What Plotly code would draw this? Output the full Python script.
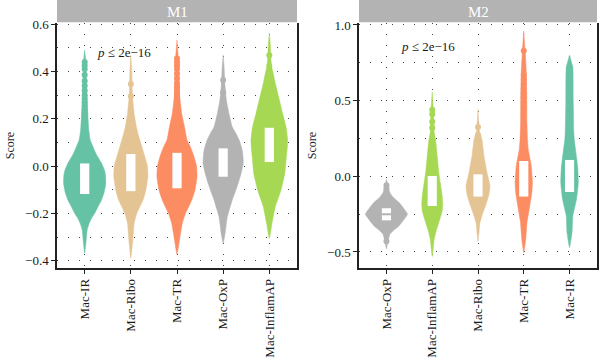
import plotly.graph_objects as go

# ---------------- data ----------------
m1_categories = ["Mac-IR", "Mac-Ribo", "Mac-TR", "Mac-OxP", "Mac-InflamAP"]
m2_categories = ["Mac-OxP", "Mac-InflamAP", "Mac-Ribo", "Mac-TR", "Mac-IR"]

# violin outline: score levels and density half-widths (category units)
m1_dens_y = [
    [-0.369, -0.313, -0.27, -0.242, -0.22, -0.2, -0.17, -0.144, -0.11, -0.073, -0.04, -0.017, 0.01, 0.039, 0.06, 0.082, 0.11, 0.15, 0.195, 0.266, 0.335, 0.40, 0.45, 0.49],
    [-0.39, -0.313, -0.242, -0.2, -0.172, -0.14, -0.101, -0.045, 0.0, 0.025, 0.06, 0.082, 0.11, 0.14, 0.166, 0.222, 0.293, 0.35, 0.406, 0.469],
    [-0.374, -0.313, -0.242, -0.2, -0.172, -0.14, -0.101, -0.045, 0.0, 0.025, 0.055, 0.082, 0.11, 0.166, 0.222, 0.293, 0.35, 0.406, 0.462, 0.533],
    [-0.327, -0.285, -0.25, -0.214, -0.18, -0.144, -0.11, -0.073, -0.03, 0.011, 0.04, 0.068, 0.11, 0.14, 0.166, 0.222, 0.279, 0.34, 0.42, 0.469],
    [-0.306, -0.242, -0.172, -0.101, -0.031, 0.039, 0.08, 0.11, 0.166, 0.222, 0.293, 0.35, 0.392, 0.42, 0.476, 0.519, 0.561],
]
m1_dens_w = [
    [0, .033, .054, .098, .152, .217, .293, .363, .424, .457, .452, .428, .370, .283, .228, .180, .120, .090, .075, .055, .040, .030, .022, 0],
    [0, .043, .072, .130, .196, .272, .326, .370, .359, .326, .272, .239, .196, .152, .120, .072, .037, .026, .020, 0],
    [0, .054, .115, .185, .254, .326, .391, .435, .424, .391, .343, .289, .217, .163, .102, .060, .045, .038, .028, 0],
    [0, .043, .065, .091, .141, .196, .261, .326, .391, .435, .430, .413, .348, .272, .196, .126, .070, .040, .020, 0],
    [0, .059, .130, .254, .337, .370, .391, .398, .363, .289, .202, .130, .087, .050, .030, .020, 0],
]
m2_dens_y = [
    [-0.48, -0.43, -0.383, -0.355, -0.328, -0.29, -0.25, -0.21, -0.172, -0.14, -0.108, -0.07, -0.02],
    [-0.53, -0.416, -0.36, -0.304, -0.229, -0.18, -0.13, -0.04, 0.03, 0.112, 0.245, 0.29, 0.36, 0.42, 0.557],
    [-0.43, -0.306, -0.25, -0.196, -0.12, -0.064, 0.024, 0.08, 0.134, 0.245, 0.30, 0.443],
    [-0.504, -0.416, -0.304, -0.196, -0.11, -0.042, 0.068, 0.178, 0.245, 0.35, 0.51, 0.69, 0.83, 0.96],
    [-0.471, -0.372, -0.262, -0.152, -0.042, 0.05, 0.112, 0.245, 0.29, 0.49, 0.718, 0.80],
]
m2_dens_w = [
    [0, .033, .076, .164, .273, .371, .459, .371, .273, .153, .076, .039, 0],
    [0, .044, .087, .146, .218, .229, .218, .175, .142, .116, .072, .044, .033, .030, 0],
    [0, .044, .098, .164, .240, .262, .197, .164, .131, .087, .033, 0],
    [0, .044, .072, .131, .175, .190, .164, .098, .081, .070, .066, .055, .030, 0],
    [0, .055, .072, .153, .192, .181, .159, .103, .094, .081, .072, 0],
]

# box (white rectangle) quartiles
m1_q1 = [-0.118, -0.106, -0.094, -0.045, 0.017]
m1_q3 = [0.011, 0.051, 0.056, 0.075, 0.162]
m2_q1 = [-0.291, -0.196, -0.134, -0.134, -0.104]
m2_q3 = [-0.211, 0.002, 0.013, 0.101, 0.108]
m2_oxp_median = -0.251

# outliers
m1_outliers = [
    [0.44, 0.425, 0.41, 0.385, 0.36, 0.34, 0.32, 0.30, 0.285, 0.27, 0.255, 0.24, 0.225, 0.215],
    [0.347, 0.295],
    [0.455, 0.44, 0.425, 0.41, 0.39, 0.37, 0.35, 0.335, 0.32, 0.305, 0.29],
    [0.364, 0.312],
    [0.469, 0.423],
]
m2_outliers = [
    [-0.06, -0.08, -0.43],
    [0.44, 0.41, 0.36, 0.32],
    [0.326, 0.27],
    [0.83, 0.67, 0.64, 0.61, 0.58, 0.55, 0.52, 0.49, 0.46],
    [0.72, 0.70, 0.67, 0.64, 0.61, 0.58, 0.55, 0.52, 0.49, 0.46, 0.43],
]

m1_yticks = [-0.4, -0.2, 0.0, 0.2, 0.4, 0.6]
m2_yticks = [-0.5, 0.0, 0.5, 1.0]
p_label = "<i>p</i> ≤ 2e−16"

# ---------------- styles ----------------
colors = {
    "Mac-IR": "#66C2A5",
    "Mac-Ribo": "#E5C494",
    "Mac-TR": "#FC8D62",
    "Mac-OxP": "#B3B3B3",
    "Mac-InflamAP": "#A6D854",
}
FONT = "Liberation Serif, Times New Roman, serif"
BOX_HALF = 0.1
GRID = dict(gridcolor="#444444", gridwidth=1, griddash="1px,10px")

fig = go.Figure()


def add_panel(cats, dens_y, dens_w, q1, q3, outl, xa, ya):
    for i, c in enumerate(cats):
        col = colors[c]
        ys = dens_y[i]
        ws = dens_w[i]
        px = [i + w for w in ws] + [i - w for w in ws[::-1]]
        py = list(ys) + list(ys[::-1])
        fig.add_trace(go.Scatter(x=px, y=py, xaxis=xa, yaxis=ya, mode="lines",
                                 fill="toself", fillcolor=col,
                                 line=dict(color=col, width=0.5, shape="spline", smoothing=0.4),
                                 hoverinfo="skip", showlegend=False))
        fig.add_trace(go.Scatter(x=[i] * len(outl[i]), y=outl[i], xaxis=xa, yaxis=ya,
                                 mode="markers", marker=dict(color=col, size=6),
                                 hoverinfo="skip", showlegend=False))
        bx = [i - BOX_HALF, i + BOX_HALF, i + BOX_HALF, i - BOX_HALF, i - BOX_HALF]
        by = [q1[i], q1[i], q3[i], q3[i], q1[i]]
        fig.add_trace(go.Scatter(x=bx, y=by, xaxis=xa, yaxis=ya, mode="lines",
                                 fill="toself", fillcolor="white",
                                 line=dict(color="white", width=0),
                                 hoverinfo="skip", showlegend=False))


add_panel(m1_categories, m1_dens_y, m1_dens_w, m1_q1, m1_q3, m1_outliers, "x", "y")
add_panel(m2_categories, m2_dens_y, m2_dens_w, m2_q1, m2_q3, m2_outliers, "x2", "y2")

# median line of Mac-OxP in M2
oxp_i = m2_categories.index("Mac-OxP")
fig.add_trace(go.Scatter(x=[oxp_i - BOX_HALF, oxp_i + BOX_HALF], y=[m2_oxp_median] * 2,
                         xaxis="x2", yaxis="y2", mode="lines",
                         line=dict(color=colors["Mac-OxP"], width=2),
                         hoverinfo="skip", showlegend=False))

W, H = 600, 361
MT, MB = 23, 93
axis_common = dict(showline=True, linecolor="#222222", linewidth=1.5,
                   ticks="outside", ticklen=4, tickwidth=1, tickcolor="#222222",
                   zeroline=False, tickfont=dict(family=FONT, size=13, color="#1a1a1a"))

fig.update_layout(
    width=W, height=H,
    margin=dict(l=0, r=0, t=MT, b=MB),
    plot_bgcolor="white", paper_bgcolor="white",
    font=dict(family=FONT, color="#1a1a1a"),
    xaxis=dict(domain=[57 / W, 297 / W], range=[-0.6, 4.6], tickvals=list(range(5)),
               ticktext=m1_categories, tickangle=-90, showgrid=True, **GRID, **axis_common),
    xaxis2=dict(domain=[359 / W, 597 / W], range=[-0.6, 4.6], tickvals=list(range(5)),
                ticktext=m2_categories, tickangle=-90, showgrid=True, **GRID, **axis_common),
    yaxis=dict(anchor="x", range=[-0.431, 0.605], tickvals=m1_yticks, tickformat=".1f",
               mirror=True, showgrid=True, **GRID,
               minor=dict(dtick=0.1, showgrid=True, **GRID),
               title=dict(text="Score", font=dict(family=FONT, size=12), standoff=8),
               **axis_common),
    yaxis2=dict(anchor="x2", range=[-0.606, 1.013], tickvals=m2_yticks, tickformat=".1f",
                mirror=True, showgrid=True, **GRID,
                minor=dict(dtick=0.25, showgrid=True, **GRID),
                title=dict(text="Score", font=dict(family=FONT, size=12), standoff=8),
                **axis_common),
)

# strips
for xd, yd, label in (("x domain", "y domain", "M1"), ("x2 domain", "y2 domain", "M2")):
    fig.add_shape(type="rect", xref=xd, yref=yd, x0=0, x1=1, y0=1.003, y1=1 + MT / (H - MT - MB),
                  fillcolor="#B3B3B3", line=dict(width=0), layer="above")
    fig.add_annotation(xref=xd, yref=yd, x=0.5, y=1 + (MT / 2) / (H - MT - MB), text=label,
                       showarrow=False, font=dict(family=FONT, size=15, color="white"),
                       yanchor="middle")

# p-value labels
fig.add_annotation(xref="x", yref="y", x=0.85, y=0.482, text=p_label, showarrow=False,
                   font=dict(family=FONT, size=13, color="#1a1a1a"))
fig.add_annotation(xref="x2", yref="y2", x=0.9, y=0.855, text=p_label, showarrow=False,
                   font=dict(family=FONT, size=13, color="#1a1a1a"))

fig.write_html("out.html")
